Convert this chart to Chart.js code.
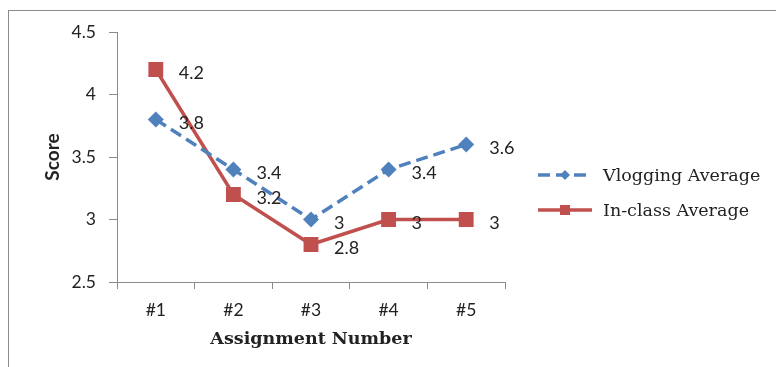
<!DOCTYPE html>
<html>
<head>
<meta charset="utf-8">
<script src="https://cdn.jsdelivr.net/npm/chart.js@4/dist/chart.umd.min.js"></script>
<style>
  html, body { margin: 0; padding: 0; background: #fff; }
  #wrap { position: relative; width: 776px; height: 367px; overflow: hidden; }
  #frame { position: absolute; left: 8px; top: 10px; width: 800px; height: 400px;
           border-left: 1px solid #8a8a8a; border-top: 1px solid #8a8a8a; }
  canvas { position: absolute; left: 0; top: 0; }
</style>
</head>
<body>
<div id="wrap">
  <div id="frame"></div>
  <canvas id="c" width="776" height="367"></canvas>
</div>
<script>
// Assignment scores, vlogging vs in-class
const categories = ['#1', '#2', '#3', '#4', '#5'];
const vloggingAverage = [3.8, 3.4, 3.0, 3.4, 3.6];
const inClassAverage = [4.2, 3.2, 2.8, 3.0, 3.0];
const seriesNames = ['Vlogging Average', 'In-class Average'];
const yTicks = [2.5, 3, 3.5, 4, 4.5];

const BLUE = '#4F81BD';
const RED = '#C0504D';
const SERIF = '"DejaVu Serif", "Liberation Serif", serif';
const SANS = 'Lato, "Open Sans", sans-serif';

// Value labels to the right of each point
const valueLabels = {
  id: 'valueLabels',
  afterDatasetsDraw(chart) {
    const ctx = chart.ctx;
    ctx.save();
    ctx.font = '18px ' + SANS;
    ctx.fillStyle = '#222';
    ctx.textAlign = 'left';
    ctx.textBaseline = 'middle';
    chart.data.datasets.forEach((ds, i) => {
      chart.getDatasetMeta(i).data.forEach((pt, j) => {
        ctx.fillText(String(ds.data[j]), pt.x + 23, pt.y + 4);
      });
    });
    ctx.restore();
  }
};

// Legend with line + marker samples on the right
const sideLegend = {
  id: 'sideLegend',
  afterDraw(chart) {
    const ctx = chart.ctx;
    const a = chart.chartArea;
    const x0 = a.right + 33, x1 = a.right + 87, xm = (x0 + x1) / 2;
    const rows = [a.top + 143, a.top + 178];
    ctx.save();
    chart.data.datasets.forEach((ds, i) => {
      const y = rows[i];
      ctx.strokeStyle = ds.borderColor;
      ctx.lineWidth = ds.borderWidth;
      ctx.setLineDash(ds.borderDash || []);
      ctx.beginPath();
      ctx.moveTo(x0, y); ctx.lineTo(x1, y);
      ctx.stroke();
      ctx.setLineDash([]);
      ctx.fillStyle = ds.pointBackgroundColor;
      ctx.beginPath();
      if (ds.pointStyle === 'rect') {
        ctx.rect(xm - 5, y - 5, 10, 10);
      } else {
        ctx.moveTo(xm, y - 5); ctx.lineTo(xm + 5, y);
        ctx.lineTo(xm, y + 5); ctx.lineTo(xm - 5, y);
        ctx.closePath();
      }
      ctx.fill();
      ctx.fillStyle = '#222';
      ctx.font = '17.5px ' + SERIF;
      ctx.textAlign = 'left';
      ctx.textBaseline = 'middle';
      ctx.fillText(ds.label, a.right + 98, y + 1);
    });
    ctx.restore();
  }
};

new Chart(document.getElementById('c'), {
  type: 'line',
  data: {
    labels: categories,
    datasets: [
      {
        label: seriesNames[0],
        data: vloggingAverage,
        borderColor: BLUE,
        backgroundColor: BLUE,
        pointBackgroundColor: BLUE,
        pointBorderColor: BLUE,
        borderWidth: 3.5,
        borderDash: [12, 6],
        pointStyle: 'rectRot',
        pointRadius: 8,
        pointBorderWidth: 0,
        tension: 0
      },
      {
        label: seriesNames[1],
        data: inClassAverage,
        borderColor: RED,
        backgroundColor: RED,
        pointBackgroundColor: RED,
        pointBorderColor: RED,
        borderWidth: 3.5,
        pointStyle: 'rect',
        pointRadius: 10.5,
        pointBorderWidth: 0,
        tension: 0
      }
    ]
  },
  options: {
    responsive: false,
    animation: false,
    devicePixelRatio: 1,
    layout: { padding: { left: 0, right: 271, top: 32, bottom: 0 } },
    plugins: { legend: { display: false }, tooltip: { enabled: false } },
    scales: {
      x: {
        offset: true,
        grid: { offset: true, drawOnChartArea: false, drawTicks: true, tickLength: 7, color: '#8a8a8a' },
        border: { color: '#8a8a8a', width: 1 },
        ticks: { color: '#222', font: { family: SANS, size: 17.5 }, padding: 11 },
        title: { display: true, text: 'Assignment Number', color: '#222',
                 font: { family: SERIF, size: 17.5, weight: 'bold' }, padding: { top: 0, bottom: 17 } },
        afterFit(scale) { scale.height = 85; }
      },
      y: {
        min: 2.5, max: 4.5,
        afterBuildTicks(scale) { scale.ticks = yTicks.map(v => ({ value: v })); },
        grid: { drawOnChartArea: false, drawTicks: true, tickLength: 8, color: '#8a8a8a' },
        border: { color: '#8a8a8a', width: 1 },
        ticks: { color: '#222', font: { family: SANS, size: 17.5 }, padding: 13,
                 callback: v => String(v) },
        title: { display: true, text: 'Score', color: '#222',
                 font: { family: SANS, size: 19, weight: 'bold' }, padding: { top: 41, bottom: 0 } },
        afterFit(scale) { scale.width = 117; }
      }
    }
  },
  plugins: [valueLabels, sideLegend]
});
</script>
</body>
</html>
